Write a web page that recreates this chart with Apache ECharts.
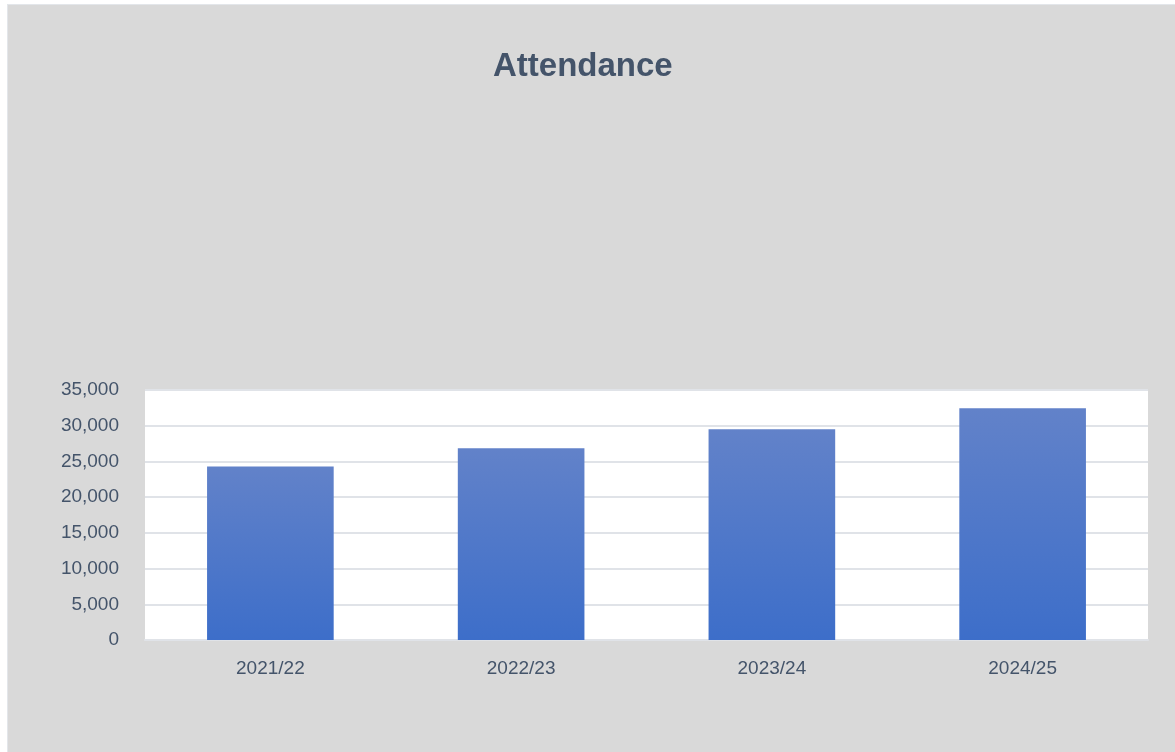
<!DOCTYPE html>
<html>
<head>
    <meta charset="utf-8">
    <title>Attendance</title>
    <script src="https://cdn.jsdelivr.net/npm/echarts@6/dist/echarts.min.js"></script>
    <style>
        body { margin: 0; background: #ffffff; }
        #main { position: absolute; left: 7px; top: 4px; width: 1168px; height: 748px;
                background: #d9d9d9; border-left: 1px solid #e3e6ea; border-top: 1px solid #e3e6ea; box-sizing: border-box; }
    </style>
</head>
<body>
<div id="main"></div>
<script type="text/javascript">
    // chart data
    var seasons = ['2021/22', '2022/23', '2023/24', '2024/25'];
    var attendance = [24300, 26850, 29500, 32450];

    var textColor = '#44546a';
    var fontName = 'Liberation Sans, sans-serif';

    var myChart = echarts.init(document.getElementById('main'));

    var option = {
        animation: false,
        title: {
            text: 'Attendance',
            left: 480,
            top: 40,
            textStyle: { color: textColor, fontSize: 33, fontWeight: 'bold', fontFamily: fontName }
        },
        grid: {
            left: 137,
            right: 27,
            top: 385,
            bottom: 112,
            show: true,
            backgroundColor: '#ffffff',
            borderWidth: 0
        },
        xAxis: {
            type: 'category',
            data: seasons,
            axisLine: { show: true, lineStyle: { color: '#e0e3e8', width: 2 } },
            axisTick: { show: false },
            axisLabel: { color: textColor, fontSize: 19, margin: 19, fontFamily: fontName }
        },
        yAxis: {
            type: 'value',
            min: 0,
            max: 35000,
            interval: 5000,
            axisLine: { show: false },
            axisTick: { show: false },
            splitLine: { lineStyle: { color: '#e0e3e8', width: 2 } },
            axisLabel: {
                color: textColor, fontSize: 19, margin: 26, fontFamily: fontName,
                formatter: function (v) { return v.toLocaleString('en-US'); }
            }
        },
        series: [{
            name: 'Attendance',
            type: 'bar',
            data: attendance,
            barWidth: '50.5%',
            itemStyle: {
                color: new echarts.graphic.LinearGradient(0, 0, 0, 1, [
                    { offset: 0, color: '#6282c9' },
                    { offset: 1, color: '#3d6ec9' }
                ])
            }
        }]
    };

    myChart.setOption(option);
</script>
</body>
</html>
